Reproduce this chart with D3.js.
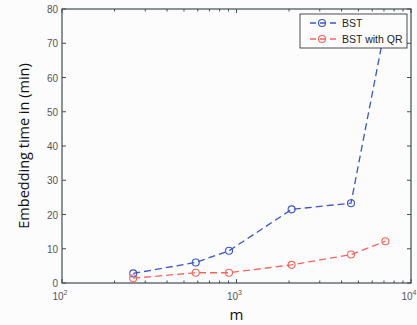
<!DOCTYPE html>
<html>
<head>
<meta charset="utf-8">
<script src="https://cdn.jsdelivr.net/npm/d3@7"></script>
<style>
  body { margin: 0; background: #fcfcfd; }
  svg { display: block; }
  .tick-label { font-family: 'Liberation Sans', Arial, sans-serif; font-size: 10px; fill: #555; }
  .axis-title { font-family: 'Open Sans', sans-serif; fill: #111; }
</style>
</head>
<body>
<script>
var m = [256, 584, 906, 2070, 4530, 7130];
var bst = [2.8, 6.0, 9.4, 21.5, 23.3, 75];
var bstQR = [1.4, 3.0, 3.0, 5.3, 8.3, 12.2];
var seriesNames = ['BST', 'BST with QR'];
var yTicks = [0, 10, 20, 30, 40, 50, 60, 70, 80];
var xTicks = [100, 1000, 10000];

var w = 417, h = 325;
var padL = 62, padR = 411, padT = 9, padB = 283;

var svg = d3.select('body').append('svg')
  .attr('width', w)
  .attr('height', h);

svg.append('rect').attr('width', w).attr('height', h).attr('fill', '#fcfcfd');

var x = d3.scaleLog().domain([100, 10000]).range([padL, padR]);
var y = d3.scaleLinear().domain([0, 80]).range([padB, padT]);

svg.append('defs').append('clipPath').attr('id', 'clip')
  .append('rect')
    .attr('x', padL).attr('y', padT)
    .attr('width', padR - padL).attr('height', padB - padT);

var axisColor = '#3f4f52';

// minor + major ticks on the log axis (bottom & top, pointing in)
var minor = [];
[100, 1000].forEach(function(d) {
  for (var k = 2; k <= 9; k++) minor.push(d * k);
});
minor.concat(xTicks).forEach(function(d) {
  var len = xTicks.indexOf(d) >= 0 ? 4 : 2.5;
  svg.append('line')
    .attr('x1', x(d)).attr('x2', x(d))
    .attr('y1', padB).attr('y2', padB - len)
    .style('stroke', axisColor);
  svg.append('line')
    .attr('x1', x(d)).attr('x2', x(d))
    .attr('y1', padT).attr('y2', padT + len)
    .style('stroke', axisColor);
});

yTicks.forEach(function(d) {
  svg.append('line')
    .attr('x1', padL).attr('x2', padL + 4)
    .attr('y1', y(d)).attr('y2', y(d))
    .style('stroke', axisColor);
  svg.append('line')
    .attr('x1', padR).attr('x2', padR - 4)
    .attr('y1', y(d)).attr('y2', y(d))
    .style('stroke', axisColor);
  svg.append('text')
    .attr('class', 'tick-label')
    .attr('x', padL - 4)
    .attr('y', y(d) + 4)
    .style('text-anchor', 'end')
    .text(d);
});

xTicks.forEach(function(d) {
  var t = svg.append('text')
    .attr('class', 'tick-label')
    .attr('x', x(d) - 2)
    .attr('y', padB + 17)
    .style('text-anchor', 'middle');
  t.append('tspan').text('10');
  t.append('tspan')
    .attr('dy', -5)
    .style('font-size', '7px')
    .text(Math.round(Math.log10(d)));
});

// plot box
svg.append('rect')
  .attr('x', padL).attr('y', padT)
  .attr('width', padR - padL).attr('height', padB - padT)
  .attr('fill', 'none')
  .style('stroke', axisColor)
  .style('stroke-width', 1.2);

var colors = ['#3b54c8', '#f2655c'];
var series = [bst, bstQR];

var line = d3.line()
  .x(function(d, i) { return x(m[i]); })
  .y(function(d) { return y(d); });

var plot = svg.append('g').attr('clip-path', 'url(#clip)');

series.forEach(function(s, si) {
  plot.append('path')
    .datum(s)
    .attr('d', line)
    .attr('fill', 'none')
    .style('stroke', colors[si])
    .style('stroke-width', 1.3)
    .style('stroke-dasharray', '7,4');
  plot.selectAll('.pt' + si)
    .data(s)
    .enter().append('circle')
      .attr('cx', function(d, i) { return x(m[i]); })
      .attr('cy', function(d) { return y(d); })
      .attr('r', 3.5)
      .attr('fill', 'none')
      .style('stroke', colors[si])
      .style('stroke-width', 1.1);
});

// legend
var lg = svg.append('g');
lg.append('rect')
  .attr('x', 300).attr('y', 14)
  .attr('width', 107).attr('height', 34)
  .attr('fill', '#fcfcfd')
  .style('stroke', '#222')
  .style('stroke-width', 0.8);

seriesNames.forEach(function(name, i) {
  var ly = 23 + i * 16;
  lg.append('line')
    .attr('x1', 310).attr('x2', 338)
    .attr('y1', ly).attr('y2', ly)
    .style('stroke', colors[i])
    .style('stroke-width', 1.3)
    .style('stroke-dasharray', '6,4');
  lg.append('circle')
    .attr('cx', 322).attr('cy', ly)
    .attr('r', 3.5)
    .attr('fill', 'none')
    .style('stroke', colors[i])
    .style('stroke-width', 1.1);
  lg.append('text')
    .attr('class', 'tick-label')
    .attr('x', 342)
    .attr('y', ly + 4)
    .style('fill', '#222')
    .style('font-size', '10.5px')
    .text(name);
});

svg.append('text')
  .attr('class', 'axis-title')
  .attr('x', x(1000))
  .attr('y', 320)
  .style('text-anchor', 'middle')
  .style('font-size', '15px')
  .text('m');

svg.append('text')
  .attr('class', 'axis-title')
  .attr('transform', 'translate(29,' + ((padT + padB) / 2) + ') rotate(-90)')
  .style('text-anchor', 'middle')
  .style('font-size', '14.5px')
  .text('Embedding time in (min)');
</script>
</body>
</html>
